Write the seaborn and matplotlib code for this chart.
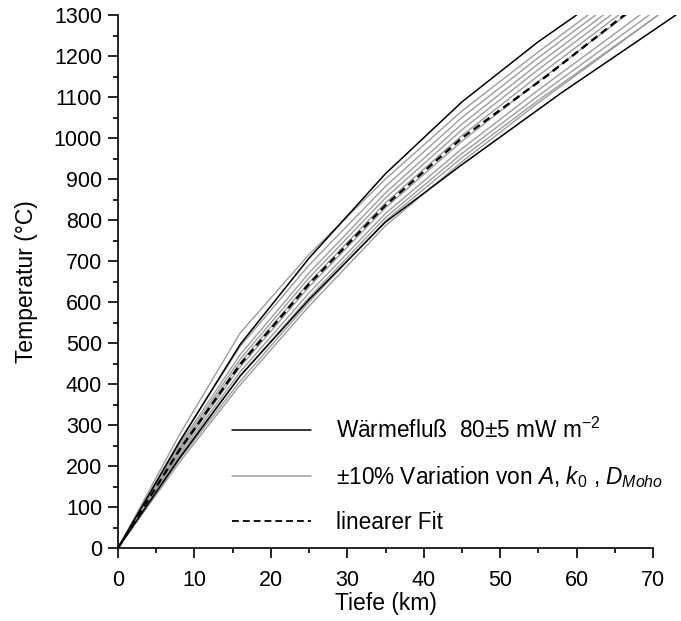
import numpy as np
import pandas as pd
import matplotlib
matplotlib.use("Agg")
import matplotlib.pyplot as plt
from matplotlib.lines import Line2D
import seaborn as sns

# ---------------- data ----------------
# black: heat flow 85 and 75 mW m^-2
black_hot_depth = [0, 8, 16, 25, 35, 45, 55, 60]
black_hot_temp = [0, 257, 497, 707, 913, 1088, 1235, 1300]
black_cold_depth = [0, 8, 16, 25, 35, 45, 58, 73]
black_cold_temp = [0, 218, 420, 606, 795, 935, 1110, 1300]

# grey: +-10 % variation of A, k0, D_Moho
grey_depth = [
    [0, 8, 16, 25, 35, 45, 55, 61.5],
    [0, 8, 16, 25, 35, 45, 55, 62.5],
    [0, 8, 16, 25, 35, 45, 55, 63.5],
    [0, 8, 16, 25, 35, 45, 55, 64.5],
    [0, 8, 16, 25, 35, 45, 55, 65.5],
    [0, 8, 16, 25, 35, 45, 55, 66.5],
    [0, 8, 16, 25, 35, 45, 55, 68.3],
    [0, 8, 16, 25, 35, 45, 55, 69.5],
    [0, 8, 16, 25, 35, 45, 55, 70.7],
    [0, 8, 16, 25, 35, 45, 55, 70.7],
]
grey_temp = [
    [0, 275, 525, 716, 900, 1066, 1210, 1300],
    [0, 260, 492, 690, 882, 1050, 1196, 1300],
    [0, 250, 472, 671, 866, 1034, 1181, 1300],
    [0, 244, 461, 659, 854, 1020, 1167, 1300],
    [0, 238, 452, 648, 842, 1006, 1152, 1300],
    [0, 233, 442, 637, 830, 992, 1138, 1300],
    [0, 227, 430, 622, 816, 974, 1117, 1300],
    [0, 222, 420, 611, 806, 962, 1103, 1300],
    [0, 215, 407, 600, 798, 952, 1092, 1300],
    [0, 208, 398, 590, 786, 942, 1086, 1300],
]

# dashed: linear fit
fit_depth = [0, 8, 16, 25, 35, 45, 56, 66.6]
fit_temp = [0, 238, 448, 644, 836, 1000, 1150, 1305]

legend_labels = [
    "W\u00e4rmeflu\u00df  80\u00b15 mW m$^{\\mathrm{-2}}$",
    "\u00b110% Variation von $A$, $k_{\\mathit{0}}$ , $D_{Moho}$",
    "linearer Fit",
]
x_label = "Tiefe (km)"
y_label = "Temperatur (\u00b0C)"
x_ticks = [0, 10, 20, 30, 40, 50, 60, 70]
y_ticks = list(range(0, 1301, 100))

# ---------------- style ----------------
sns.set_style("ticks")
plt.rcParams["font.family"] = ["Liberation Sans", "DejaVu Sans"]
plt.rcParams["mathtext.fontset"] = "custom"
plt.rcParams["mathtext.rm"] = "Liberation Sans"
plt.rcParams["mathtext.it"] = "Liberation Sans:italic"
plt.rcParams["mathtext.bf"] = "Liberation Sans:bold"
plt.rcParams["mathtext.default"] = "it"
plt.rcParams["axes.unicode_minus"] = False
for k in ("text.color", "axes.labelcolor", "xtick.color", "ytick.color", "axes.edgecolor"):
    plt.rcParams[k] = "black"

fig = plt.figure(figsize=(6.81, 6.21), dpi=100)
ax_left, ax_bottom = 118 / 681, (621 - 548) / 621
ax_w = (73.5 * 7.643) / 681
ax_h = (548 - 15) / 621
ax = fig.add_axes([ax_left, ax_bottom, ax_w, ax_h])

GREY = "#9c9c9c"

for d, t in zip(grey_depth, grey_temp):
    sns.lineplot(x=d, y=t, ax=ax, color=GREY, lw=1.0, sort=False, estimator=None)

for d, t in [(black_hot_depth, black_hot_temp), (black_cold_depth, black_cold_temp)]:
    sns.lineplot(x=d, y=t, ax=ax, color="black", lw=1.1, sort=False, estimator=None)

sns.lineplot(x=fit_depth, y=fit_temp, ax=ax, color="black", lw=1.7,
             sort=False, estimator=None)
ax.lines[-1].set_dashes((3.2, 2.0))

ax.set_xlim(0, 73.5)
ax.set_ylim(0, 1300)
ax.spines["bottom"].set_bounds(0, 70)
ax.spines["top"].set_visible(False)
ax.spines["right"].set_visible(False)
for s in ("left", "bottom"):
    ax.spines[s].set_linewidth(1.2)

ax.set_xticks(x_ticks)
ax.set_xticks(np.arange(5, 70, 10), minor=True)
ax.set_yticks(y_ticks)
ax.set_yticks(np.arange(50, 1300, 100), minor=True)
ax.tick_params(axis="both", which="major", direction="out", length=7.5, width=1.2,
               labelsize=15.5, color="black", labelcolor="black")
ax.tick_params(axis="both", which="minor", direction="out", length=3.5, width=1.2)
ax.tick_params(axis="x", which="major", pad=8)
ax.tick_params(axis="y", which="major", pad=4)

ax.set_xlabel(x_label, fontsize=16.5, labelpad=1)
ax.xaxis.label.set_x(35 / 73.5)
ax.set_ylabel(y_label, fontsize=16.5, labelpad=11)

handles = [
    Line2D([], [], color="black", lw=1.1),
    Line2D([], [], color=GREY, lw=1.1),
    Line2D([], [], color="black", lw=1.3, dashes=(3.8, 2.2)),
]
leg = ax.legend(handles, legend_labels, loc="upper left",
                bbox_to_anchor=(232 / 681, (621 - 418) / 621),
                bbox_transform=fig.transFigure, frameon=False,
                fontsize=16.3, handlelength=3.5, handletextpad=1.1,
                labelspacing=0.93, borderpad=0, borderaxespad=0)

fig.savefig("out.png", dpi=100)
